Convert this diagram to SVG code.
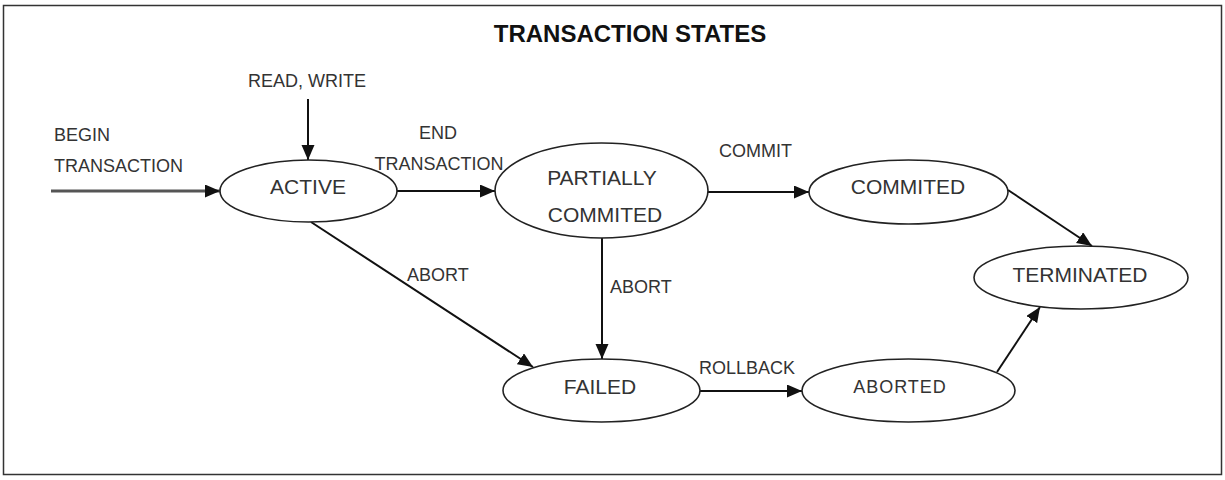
<svg xmlns="http://www.w3.org/2000/svg" width="1225" height="480" viewBox="0 0 1225 480">
<style>
.node ellipse{fill:#fff;stroke:#222;stroke-width:1.6}
.nl{font-family:"Liberation Sans",Arial,sans-serif;font-size:21px;fill:#333;text-anchor:middle}
.el{font-family:"Liberation Sans",Arial,sans-serif;font-size:18px;fill:#333}
.edge{stroke:#111;stroke-width:2;fill:none}
</style>
<defs>
<marker id="ah" markerUnits="userSpaceOnUse" markerWidth="16" markerHeight="14" refX="15" refY="6.5" orient="auto">
<path d="M0,0 L15,6.5 L0,13 Z" fill="#111"/>
</marker>
</defs>
<rect x="0" y="0" width="1225" height="480" fill="#fff"/>
<rect x="3.5" y="5.5" width="1218" height="469" fill="none" stroke="#333" stroke-width="1.5"/>
<text x="630" y="42" font-family="Liberation Sans,Arial,sans-serif" font-size="24" font-weight="bold" fill="#111" text-anchor="middle">TRANSACTION STATES</text>

<g id="connectors">
<line class="edge" x1="51" y1="191" x2="220" y2="191" style="stroke:#555;stroke-width:3" marker-end="url(#ah)"/>
<line class="edge" x1="308" y1="99" x2="308" y2="160" marker-end="url(#ah)"/>
<line class="edge" x1="397" y1="191" x2="495" y2="191" marker-end="url(#ah)"/>
<line class="edge" x1="708" y1="192" x2="809" y2="192" marker-end="url(#ah)"/>
<line class="edge" x1="1008" y1="190" x2="1092" y2="246" marker-end="url(#ah)"/>
<line class="edge" x1="997" y1="372" x2="1040" y2="307" marker-end="url(#ah)"/>
<line class="edge" x1="311" y1="222" x2="533" y2="367" marker-end="url(#ah)"/>
<line class="edge" x1="602" y1="238" x2="602" y2="359" marker-end="url(#ah)"/>
<line class="edge" x1="700" y1="391" x2="802" y2="391" marker-end="url(#ah)"/>
<text class="el" x="54" y="141">BEGIN</text>
<text class="el" x="54" y="172">TRANSACTION</text>
<text class="el" x="248" y="87">READ, WRITE</text>
<text class="el" x="438" y="139" text-anchor="middle">END</text>
<text class="el" x="439" y="170" text-anchor="middle">TRANSACTION</text>
<text class="el" x="719" y="157">COMMIT</text>
<text class="el" x="407" y="281">ABORT</text>
<text class="el" x="610" y="293">ABORT</text>
<text class="el" x="699" y="374">ROLLBACK</text>
</g>

<g id="active" class="node">
<ellipse cx="308.5" cy="191" rx="88.5" ry="31"/>
<text class="nl" x="308" y="194">ACTIVE</text>
</g>
<g id="partially-commited" class="node">
<ellipse cx="601.5" cy="190.5" rx="106.5" ry="47.5"/>
<text class="nl" x="602" y="185">PARTIALLY</text>
<text class="nl" x="605" y="222">COMMITED</text>
</g>
<g id="commited" class="node">
<ellipse cx="908.5" cy="192" rx="99.5" ry="32"/>
<text class="nl" x="908" y="194">COMMITED</text>
</g>
<g id="terminated" class="node">
<ellipse cx="1081" cy="277.5" rx="107" ry="31.5"/>
<text class="nl" x="1080" y="282">TERMINATED</text>
</g>
<g id="failed" class="node">
<ellipse cx="601.5" cy="390.5" rx="98.5" ry="31.5"/>
<text class="nl" x="600" y="394">FAILED</text>
</g>
<g id="aborted" class="node">
<ellipse cx="908.5" cy="390.5" rx="106.5" ry="31.5"/>
<text class="nl" x="900" y="393" style="font-size:18px" letter-spacing="1">ABORTED</text>
</g>
</svg>
